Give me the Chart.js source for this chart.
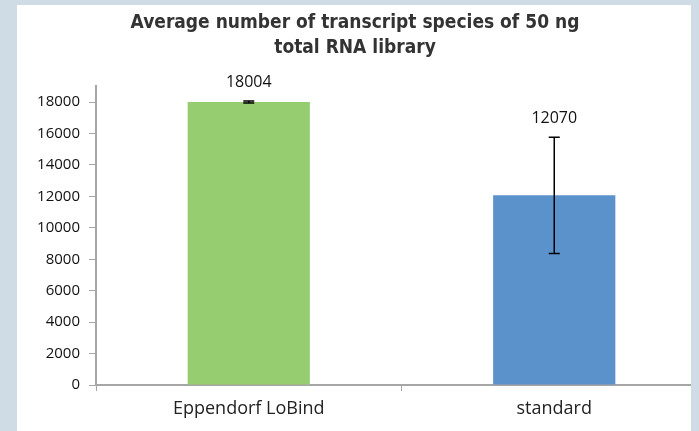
<!DOCTYPE html>
<html>
<head>
<meta charset="utf-8">
<script src="https://cdn.jsdelivr.net/npm/chart.js@4.4.0/dist/chart.umd.min.js"></script>
<style>
  html, body { margin: 0; padding: 0; background: #cfdce5; overflow: hidden; }
  #panel { position: absolute; left: 17px; top: 5px; width: 674px; height: 426px; background: #fff; overflow: hidden; }
  #c { position: absolute; left: -14px; top: 0; }
</style>
</head>
<body>
<div id="panel"><canvas id="c" width="720" height="426"></canvas></div>
<script>
// values
const categories = ["Eppendorf LoBind", "standard"];
const means = [18004, 12070];
const errors = [60, 3700];
const barColors = ["#96cd70", "#5b92cb"];
const yTicks = [0, 2000, 4000, 6000, 8000, 10000, 12000, 14000, 16000, 18000];
const titleLines = ["Average number of transcript species of 50 ng", "total RNA library"];

const FONT = "'Open Sans', sans-serif";

// error bars + value labels, placed through the chart's own scales
const errorBars = {
  id: "errorBars",
  afterDatasetsDraw(chart) {
    const ctx = chart.ctx, y = chart.scales.y;
    const meta = chart.getDatasetMeta(0);
    ctx.save();
    meta.data.forEach((bar, i) => {
      const hi = y.getPixelForValue(means[i] + errors[i]);
      const lo = y.getPixelForValue(means[i] - errors[i]);
      ctx.strokeStyle = "#000";
      ctx.lineWidth = 1.5;
      ctx.beginPath();
      ctx.moveTo(bar.x, hi); ctx.lineTo(bar.x, lo);
      ctx.moveTo(bar.x - 5.5, hi); ctx.lineTo(bar.x + 5.5, hi);
      ctx.moveTo(bar.x - 5.5, lo); ctx.lineTo(bar.x + 5.5, lo);
      ctx.stroke();
      ctx.fillStyle = "#111";
      ctx.font = "16px " + FONT;
      ctx.textAlign = "center";
      ctx.textBaseline = "middle";
      ctx.fillText(String(means[i]), bar.x, hi - 19);
    });
    ctx.restore();
  },
};

new Chart(document.getElementById("c"), {
  type: "bar",
  data: {
    labels: categories,
    datasets: [{ data: means, backgroundColor: barColors, barPercentage: 0.4, categoryPercentage: 1 }],
  },
  options: {
    responsive: false,
    animation: false,
    layout: { padding: { left: 0, right: 16, top: 0, bottom: 0 } },
    plugins: {
      legend: { display: false },
      tooltip: { enabled: false },
      title: {
        display: true,
        text: titleLines,
        color: "#333",
        font: { family: "'DejaVu Sans Condensed', Lato", size: 19, weight: "bold", lineHeight: 1.3 },
        padding: { top: 6, bottom: 26 },
      },
    },
    scales: {
      x: {
        grid: { drawOnChartArea: false, drawTicks: true, tickLength: 6, tickColor: "#a6a6a6", offset: true },
        border: { color: "#a6a6a6", width: 2 },
        ticks: { color: "#222", font: { family: FONT, size: 18 }, padding: 7 },
        afterFit: (s) => { s.height = 46; },
      },
      y: {
        min: 0,
        max: 19000,
        afterBuildTicks: (s) => { s.ticks = yTicks.map((v) => ({ value: v })); },
        grid: { drawOnChartArea: false, drawTicks: true, tickLength: 7, tickColor: "#a6a6a6" },
        border: { color: "#a6a6a6", width: 2 },
        ticks: { color: "#111", font: { family: FONT, size: 15 }, padding: 9, callback: (v) => String(v) },
        afterFit: (s) => { s.width = 93; },
      },
    },
  },
  plugins: [errorBars],
});
</script>
</body>
</html>
